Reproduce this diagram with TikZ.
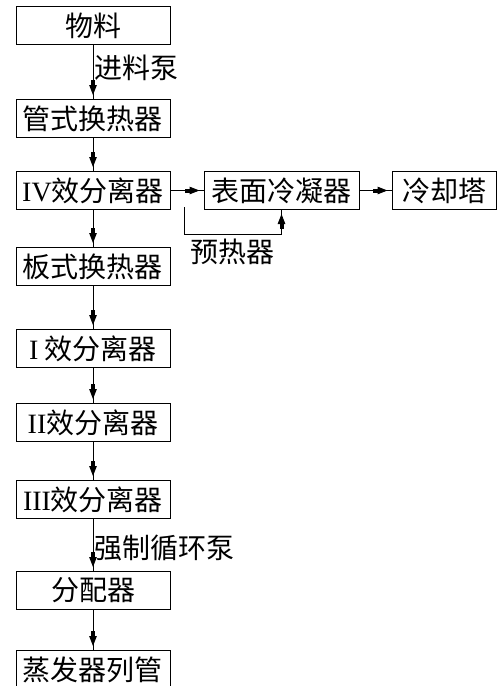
\documentclass[tikz,border=0pt]{standalone}
\usepackage{fontspec}
\setmainfont{Noto Sans CJK SC}
\newfontfamily\rmn{Liberation Serif}
\usetikzlibrary{arrows.meta,positioning,decorations.markings}

\begin{document}
\begin{tikzpicture}[x=1pt, y=-1pt, line width=1pt,
  node distance=33pt and 33pt,
  b/.style={draw, minimum width=154pt, minimum height=38pt, inner sep=0pt,
    font=\fontsize{28}{30}\selectfont},
  lab/.style={font=\fontsize{28}{30}\selectfont, inner sep=1pt},
  f/.style={postaction={decorate}, decoration={markings,
    mark=at position -4pt with {\arrow[line width=1pt]{Rectangle[length=5pt,width=4pt,sep=0pt] Triangle[length=10pt,width=7.5pt]}}}}]
\useasboundingbox (0,0) rectangle (500,686);
\node[b] (wl) at (93,25.5) {物料};
\node[b, below=54pt of wl] (gs) {管式换热器};
\node[b, below=33pt of gs] (iv) {{\rmn IV}效分离器};
\node[b, right=of iv, minimum width=155pt] (bm) {表面冷凝器};
\node[b, right=32pt of bm, minimum width=104pt] (lq) {冷却塔};
\node[b, below=37pt of iv] (bs) {板式换热器};
\node[b, below=43pt of bs] (e1) {{\rmn I} 效分离器};
\node[b, below=35pt of e1] (e2) {{\rmn II}效分离器};
\node[b, below=38pt of e2] (e3) {{\rmn III}效分离器};
\node[b, below=52pt of e3] (fp) {分配器};
\node[b, below=40pt of fp] (zf) {蒸发器列管};
\coordinate (ph) at (184,207);
% main line
\draw[f] (wl) -- node[lab, right, pos=.42] {进料泵} (gs);
\draw[f] (gs) -- (iv);
\draw[f] (iv) -- (bs);
\draw[f] (bs) -- (e1);
\draw[f] (e1) -- (e2);
\draw[f] (e2) -- (e3);
\draw[f] (e3) -- node[lab, right, pos=.55] {强制循环泵} (fp);
\draw[f] (fp) -- (zf);
% vapour side
\draw[f] (iv) -- (bm);
\draw[f] (bm) -- (lq);
\draw[f] (ph) -- ++(0,27) -| node[lab, below, pos=.25, inner sep=4pt] {预热器} (bm.south);
\end{tikzpicture}
\end{document}
